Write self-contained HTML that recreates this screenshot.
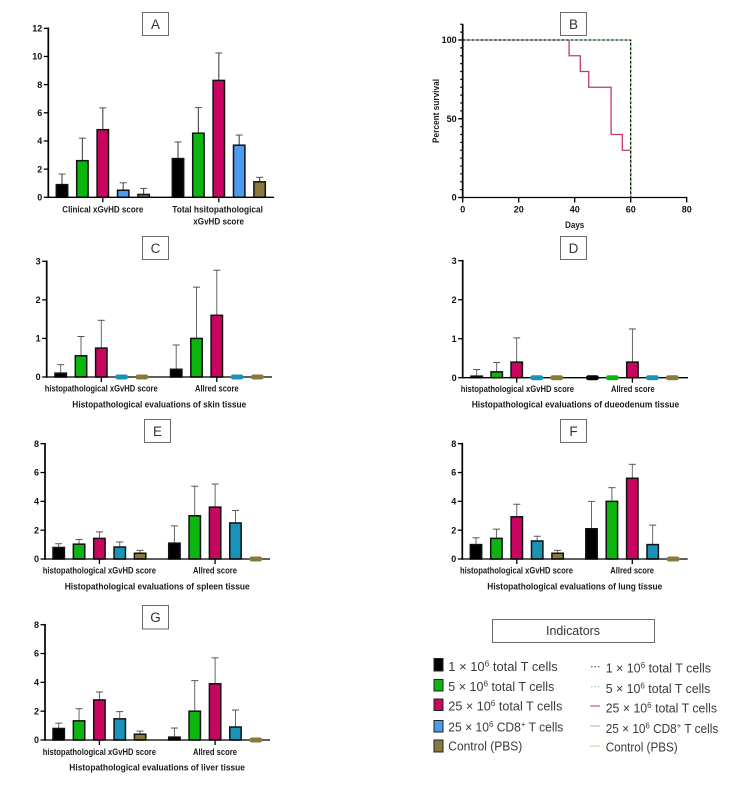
<!DOCTYPE html>
<html lang="en">
<head>
<meta charset="utf-8">
<title>Evaluation of xGvHD scores and survival</title>
<style>
html,body{margin:0;padding:0;background:#fff;width:730px;height:800px;overflow:hidden}
svg{display:block}
text{font-family:"Liberation Sans",sans-serif;fill:#1c1c1c}
.b{font-weight:bold;font-size:9.4px}
.tick{font-weight:bold;font-size:9px;fill:#111}
.box{fill:#fff;stroke:#6b6b6b;stroke-width:1}
.letter{font-size:13.5px;fill:#333;text-anchor:middle}
.leg{font-size:13px;fill:#3a3a3a}
.sup{font-size:8.5px}
</style>
</head>
<body>
<svg id="figure" width="730" height="800" viewBox="0 0 730 800" xmlns="http://www.w3.org/2000/svg">
  <rect width="730" height="800" fill="#fff"/>

  <g>
    <rect class="box" x="142.5" y="12.5" width="26" height="23"/>
    <text class="letter" x="155.5" y="29">A</text>
    <rect class="box" x="560.5" y="12.5" width="26" height="23"/>
    <text class="letter" x="573.5" y="29">B</text>
    <rect class="box" x="142.5" y="236.5" width="26" height="23"/>
    <text class="letter" x="155.5" y="253">C</text>
    <rect class="box" x="560.5" y="236.5" width="26" height="23"/>
    <text class="letter" x="573.5" y="253">D</text>
    <rect class="box" x="144.5" y="419.5" width="26" height="23"/>
    <text class="letter" x="157.5" y="436">E</text>
    <rect class="box" x="560.5" y="419.5" width="26" height="23"/>
    <text class="letter" x="573.5" y="436">F</text>
    <rect class="box" x="142.5" y="605.5" width="26" height="23.5"/>
    <text class="letter" x="155.5" y="622">G</text>
  </g>

  <g>
    <text class="b" x="72.3" y="407.3" textLength="174" lengthAdjust="spacingAndGlyphs">Histopathological evaluations of skin tissue</text>
    <text class="b" x="471.7" y="407.7" textLength="207.5" lengthAdjust="spacingAndGlyphs">Histopathological evaluations of dueodenum tissue</text>
    <text class="b" x="64.7" y="589.3" textLength="185" lengthAdjust="spacingAndGlyphs">Histopathological evaluations of spleen tissue</text>
    <text class="b" x="487.3" y="589.3" textLength="175" lengthAdjust="spacingAndGlyphs">Histopathological evaluations of lung tissue</text>
    <text class="b" x="69.3" y="770.3" textLength="175.7" lengthAdjust="spacingAndGlyphs">Histopathological evaluations of liver tissue</text>
    <text class="b" x="565" y="228" textLength="19.3" lengthAdjust="spacingAndGlyphs">Days</text>
    <text class="b" transform="translate(439,143) rotate(-90)" x="0" y="0" textLength="64" lengthAdjust="spacingAndGlyphs">Percent survival</text>
  </g>

  <g id="charts"></g>

  <g>
    <rect class="box" x="492.5" y="619.5" width="162" height="23"/>
    <text x="573" y="635" text-anchor="middle" textLength="54" lengthAdjust="spacingAndGlyphs" style="font-size:13px;fill:#333">Indicators</text>

    <rect x="434" y="658.5" width="9" height="12.5" fill="#000" stroke="#222"/>
    <text class="leg" x="448.3" y="671" textLength="109.4" lengthAdjust="spacingAndGlyphs">1 × 10<tspan class="sup" dy="-4.5">6</tspan><tspan dy="4.5">  total T cells</tspan></text>
    <rect x="434" y="679.5" width="9" height="11.5" fill="#0db60f" stroke="#222"/>
    <text class="leg" x="448.3" y="691" textLength="106" lengthAdjust="spacingAndGlyphs">5 × 10<tspan class="sup" dy="-4.5">6</tspan><tspan dy="4.5"> total T cells</tspan></text>
    <rect x="434" y="699" width="9" height="11.5" fill="#c9065f" stroke="#222"/>
    <text class="leg" x="448.3" y="710.7" textLength="114" lengthAdjust="spacingAndGlyphs">25 × 10<tspan class="sup" dy="-4.5">6</tspan><tspan dy="4.5"> total T cells</tspan></text>
    <rect x="434" y="720.5" width="9" height="11.5" fill="#4d9bf0" stroke="#222"/>
    <text class="leg" x="448.3" y="731.7" textLength="115" lengthAdjust="spacingAndGlyphs">25 × 10<tspan class="sup" dy="-4.5">6</tspan><tspan dy="4.5"> CD8</tspan><tspan class="sup" dy="-4.5">+</tspan><tspan dy="4.5"> T cells</tspan></text>
    <rect x="434" y="740" width="9" height="12" fill="#8a7a3a" stroke="#222"/>
    <text class="leg" x="448.3" y="750.7" textLength="74" lengthAdjust="spacingAndGlyphs">Control (PBS)</text>

    <line x1="591" x2="600" y1="666.7" y2="666.7" stroke="#444" stroke-dasharray="1.5 2"/>
    <text class="leg" x="605.7" y="672.3" textLength="105.3" lengthAdjust="spacingAndGlyphs">1 × 10<tspan class="sup" dy="-4.5">6</tspan><tspan dy="4.5"> total T cells</tspan></text>
    <line x1="591" x2="600" y1="686.7" y2="686.7" stroke="#7fcf80" stroke-dasharray="1.5 2"/>
    <text class="leg" x="605.7" y="693" textLength="104.6" lengthAdjust="spacingAndGlyphs">5 × 10<tspan class="sup" dy="-4.5">6</tspan><tspan dy="4.5"> total T cells</tspan></text>
    <line x1="590" x2="600" y1="706" y2="706" stroke="#c0396f"/>
    <text class="leg" x="605.7" y="712.3" textLength="111.3" lengthAdjust="spacingAndGlyphs">25 × 10<tspan class="sup" dy="-4.5">6</tspan><tspan dy="4.5"> total T cells</tspan></text>
    <line x1="590" x2="600" y1="726" y2="726" stroke="#8fc4cf"/>
    <text class="leg" x="605.7" y="733" textLength="112.6" lengthAdjust="spacingAndGlyphs">25 × 10<tspan class="sup" dy="-4.5">6</tspan><tspan dy="4.5"> CD8</tspan><tspan class="sup" dy="-4.5">+</tspan><tspan dy="4.5"> T cells</tspan></text>
    <line x1="590" x2="600" y1="746" y2="746" stroke="#c9cf8f"/>
    <text class="leg" x="605.7" y="751.3" textLength="72" lengthAdjust="spacingAndGlyphs">Control (PBS)</text>
  </g>
</svg>

<script>
// ---- Data ----
const groupLabelsDefault = ["histopathological xGvHD score", "Allred score"];

const panelAValues = [[0.9, 2.6, 4.8, 0.5, 0.2], [2.75, 4.55, 8.3, 3.7, 1.1]];
const panelAErrors = [[0.75, 1.6, 1.55, 0.53, 0.43], [1.18, 1.82, 1.95, 0.72, 0.32]];
const panelATicks = [0, 2, 4, 6, 8, 10, 12];

const panelCValues = [[0.1, 0.55, 0.75, 0, 0], [0.2, 1, 1.6, 0, 0]];
const panelCErrors = [[0.22, 0.5, 0.72, 0, 0], [0.63, 1.33, 1.17, 0, 0]];
const panelCTicks = [0, 1, 2, 3];

const panelDValues = [[0.04, 0.15, 0.4, 0, 0], [0, 0, 0.4, 0, 0]];
const panelDErrors = [[0.17, 0.24, 0.62, 0, 0], [0, 0, 0.85, 0, 0]];
const panelDTicks = [0, 1, 2, 3];

const panelEValues = [[0.8, 1.03, 1.43, 0.83, 0.4], [1.1, 3, 3.6, 2.5, 0]];
const panelEErrors = [[0.26, 0.32, 0.45, 0.35, 0.2], [1.2, 2.05, 1.6, 0.87, 0]];
const panelETicks = [0, 2, 4, 6, 8];

const panelFValues = [[1, 1.43, 2.93, 1.25, 0.4], [2.1, 4, 5.6, 1, 0]];
const panelFErrors = [[0.47, 0.64, 0.87, 0.33, 0.2], [1.9, 0.95, 0.97, 1.35, 0]];
const panelFTicks = [0, 2, 4, 6, 8];

const panelGValues = [[0.8, 1.33, 2.78, 1.47, 0.4], [0.2, 2, 3.9, 0.9, 0]];
const panelGErrors = [[0.37, 0.84, 0.55, 0.5, 0.22], [0.63, 2.12, 1.8, 1.18, 0]];
const panelGTicks = [0, 2, 4, 6, 8];

const survivalDays = [0, 38, 42, 45, 53, 57, 60];
const survivalMid = [100, 90, 80, 70, 40, 30, 0];
const survivalAllDays = [0, 60];
const survivalAll = [100, 0];
const survivalXTicks = [0, 20, 40, 60, 80];
const survivalYTicks = [0, 50, 100];

const colorsBlue = ["#000000", "#0db60f", "#c9065f", "#4d9bf0", "#8a7a3a"];
const colorsTeal = ["#000000", "#0db60f", "#c9065f", "#1a93b8", "#8a7a3a"];

const NS = "http://www.w3.org/2000/svg";
const root = document.getElementById("charts");

function make(parent, tag, attrs) {
  const el = document.createElementNS(NS, tag);
  for (const k in attrs) el.setAttribute(k, attrs[k]);
  parent.appendChild(el);
  return el;
}

function barPanel(opt) {
  const g = make(root, "g", {});
  
  

  const yScale = v => opt.zero - v * (opt.zero - opt.top) / opt.ticks[opt.ticks.length - 1];
  const xScale = (grp, s) => opt.x0 + grp * opt.groupStep + s * opt.pitch;
  const barW = 11.4;

  // error bars first, so bars sit over them
  opt.values.forEach((series, grp) => series.forEach((v, s) => {
    const e = opt.errors[grp][s];
    if (e <= 0) return;
    const x = xScale(grp, s);
    const stem = make(g, "line", {x1: x, x2: x, y1: yScale(v), y2: yScale(v + e), stroke: "#555", "stroke-width": opt.errW});
    
    
    const cap = make(g, "line", {x1: x - 3.5, x2: x + 3.5, y1: yScale(v + e), y2: yScale(v + e), stroke: "#555", "stroke-width": 1});
    
    
  }));

  opt.values.forEach((series, grp) => series.forEach((v, s) => {
    if (v <= 0) return;
    const x = xScale(grp, s);
    const bar = make(g, "rect", {x: x - barW / 2, y: yScale(v), width: barW, height: opt.zero - yScale(v), fill: opt.colors[s], stroke: "#111", "stroke-width": 1.5});
    
    
  }));

  // axes
  const yAxis = make(g, "line", {x1: opt.axisX, x2: opt.axisX, y1: opt.top - 0.8, y2: opt.zero + 0.8, stroke: "#000", "stroke-width": 1.7});
  
  
  const xAxis = make(g, "line", {x1: opt.axisX, x2: opt.axisEnd, y1: opt.zero, y2: opt.zero, stroke: "#000", "stroke-width": 1.3});
  
  

  // zero-height bars render as pills sitting over the axis line
  opt.values.forEach((series, grp) => series.forEach((v, s) => {
    if (v > 0) return;
    const x = xScale(grp, s);
    const pill = make(g, "rect", {x: x - 6.5, y: yScale(v) - 2.5, width: 13, height: 5, rx: 2.5, fill: opt.colors[s]});
    
    
  }));

  opt.ticks.forEach(t => {
    const y = yScale(t);
    const tick = make(g, "line", {x1: opt.axisX - 4.5, x2: opt.axisX, y1: y, y2: y, stroke: "#000", "stroke-width": 1.3});
    
    
    const lbl = make(g, "text", {x: opt.axisX - 6, y: y + 3.2, "text-anchor": "end", class: "tick"});
    lbl.textContent = t;
    
    
  });

  [0, 1].forEach(grp => {
    const x = xScale(grp, 2);
    const tick = make(g, "line", {x1: x, x2: x, y1: opt.zero, y2: opt.zero + 5, stroke: "#000", "stroke-width": 1.3});
    
    
  });

  opt.labels.forEach(l => {
    const t = make(g, "text", {x: l.x, y: l.y, class: "b", textLength: l.w, lengthAdjust: "spacingAndGlyphs"});
    t.textContent = l.text;
    
    
  });
}

barPanel({id: "a", values: panelAValues, errors: panelAErrors, ticks: panelATicks, colors: colorsBlue,
  axisX: 48.3, axisEnd: 274, top: 28.3, zero: 197.3, x0: 62, pitch: 20.4, groupStep: 116, errW: 1.2,
  labels: [
    {text: "Clinical xGvHD score", x: 62.3, y: 212.5, w: 81},
    {text: "Total hsitopathological", x: 172.3, y: 212.5, w: 90.7},
    {text: "xGvHD score", x: 193.3, y: 224.5, w: 50.7}
  ]});
barPanel({id: "c", values: panelCValues, errors: panelCErrors, ticks: panelCTicks, colors: colorsTeal,
  axisX: 46.7, axisEnd: 272, top: 261.3, zero: 377, x0: 60.7, pitch: 20.3, groupStep: 115.5, errW: 0.9,
  labels: [
    {text: groupLabelsDefault[0], x: 44.7, y: 391.7, w: 113},
    {text: groupLabelsDefault[1], x: 195, y: 391.7, w: 43.7}
  ]});
barPanel({id: "d", values: panelDValues, errors: panelDErrors, ticks: panelDTicks, colors: colorsTeal,
  axisX: 462.7, axisEnd: 688, top: 260.7, zero: 377.7, x0: 476.7, pitch: 20, groupStep: 115.7, errW: 0.9,
  labels: [
    {text: groupLabelsDefault[0], x: 460.7, y: 392, w: 113.3},
    {text: groupLabelsDefault[1], x: 611, y: 392, w: 43.7}
  ]});
barPanel({id: "e", values: panelEValues, errors: panelEErrors, ticks: panelETicks, colors: colorsTeal,
  axisX: 45, axisEnd: 270, top: 443.7, zero: 559, x0: 58.7, pitch: 20.35, groupStep: 115.7, errW: 0.9,
  labels: [
    {text: groupLabelsDefault[0], x: 42.7, y: 573.7, w: 113.3},
    {text: groupLabelsDefault[1], x: 193, y: 573.7, w: 44}
  ]});
barPanel({id: "f", values: panelFValues, errors: panelFErrors, ticks: panelFTicks, colors: colorsTeal,
  axisX: 462.3, axisEnd: 687.7, top: 443.7, zero: 559, x0: 476, pitch: 20.4, groupStep: 115.5, errW: 0.9,
  labels: [
    {text: groupLabelsDefault[0], x: 460, y: 573.7, w: 113},
    {text: groupLabelsDefault[1], x: 610.3, y: 573.7, w: 43.7}
  ]});
barPanel({id: "g", values: panelGValues, errors: panelGErrors, ticks: panelGTicks, colors: colorsTeal,
  axisX: 45, axisEnd: 270, top: 624.7, zero: 740, x0: 58.7, pitch: 20.35, groupStep: 115.7, errW: 0.9,
  labels: [
    {text: groupLabelsDefault[0], x: 42.7, y: 755, w: 113.3},
    {text: groupLabelsDefault[1], x: 193, y: 755, w: 44}
  ]});

// ---- Panel B: survival ----
(function () {
  const g = make(root, "g", {});
  
  

  const X0 = 462.7, X1 = 686.7, Y0 = 197.5, Y100 = 40;
  const xS = d => X0 + d * (X1 - X0) / 80;
  const yS = p => Y0 - p * (Y0 - Y100) / 100;

  function stepPath(days, vals) {
    let d = "M" + xS(days[0]) + " " + yS(vals[0]);
    for (let i = 1; i < days.length; i++) {
      d += "L" + xS(days[i]) + " " + yS(vals[i - 1]) + "L" + xS(days[i]) + " " + yS(vals[i]);
    }
    return d;
  }

  const mid = make(g, "path", {d: stepPath(survivalDays, survivalMid), fill: "none", stroke: "#c0396f", "stroke-width": 1.3});
  
  
  const green = make(g, "path", {d: stepPath(survivalAllDays, survivalAll), fill: "none", stroke: "#8fd08f", "stroke-width": 1.2});
  
  
  const black = make(g, "path", {d: stepPath(survivalAllDays, survivalAll), fill: "none", stroke: "#000", "stroke-width": 1.1, "stroke-dasharray": "2.5 2"});
  
  

  const yAxis = make(g, "line", {x1: X0, x2: X0, y1: 24, y2: Y0 + 0.8, stroke: "#000", "stroke-width": 1.7});
  
  
  const xAxis = make(g, "line", {x1: X0, x2: X1 + 0.6, y1: Y0, y2: Y0, stroke: "#000", "stroke-width": 1.3});
  
  

  for (let p = 0; p <= 110; p += 5) {
    const minor = make(g, "line", {x1: X0 - 2.5, x2: X0, y1: yS(p), y2: yS(p), stroke: "#000", "stroke-width": 1.2});
    
    
  }
  survivalYTicks.forEach(t => {
    const tick = make(g, "line", {x1: X0 - 4.5, x2: X0, y1: yS(t), y2: yS(t), stroke: "#000", "stroke-width": 1.3});
    
    
    const lbl = make(g, "text", {x: X0 - 6, y: yS(t) + 3.2, "text-anchor": "end", class: "tick"});
    lbl.textContent = t;
    
    
  });
  survivalXTicks.forEach(t => {
    const tick = make(g, "line", {x1: xS(t), x2: xS(t), y1: Y0, y2: Y0 + 5, stroke: "#000", "stroke-width": 1.3});
    
    
    const lbl = make(g, "text", {x: xS(t), y: 212.7, "text-anchor": "middle", class: "tick"});
    lbl.textContent = t;
    
    
  });
})();
</script>
</body>
</html>
